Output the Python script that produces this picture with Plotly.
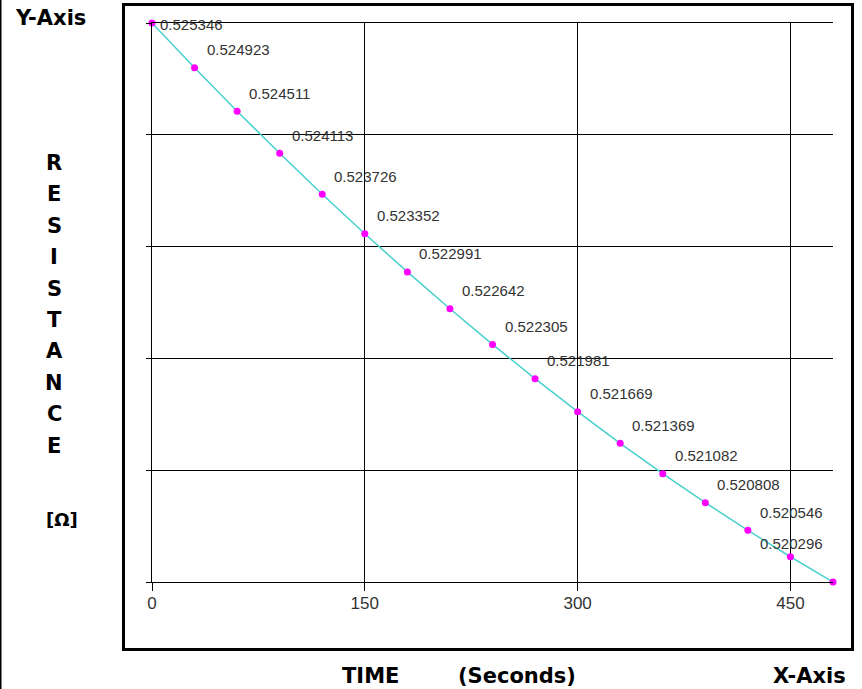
import plotly.graph_objects as go

# ---- data ----
time_s = [0, 30, 60, 90, 120, 150, 180, 210, 240, 270, 300, 330, 360, 390, 420, 450, 480]
resistance = [0.525346, 0.524923, 0.524511, 0.524113, 0.523726, 0.523352, 0.522991,
              0.522642, 0.522305, 0.521981, 0.521669, 0.521369, 0.521082, 0.520808,
              0.520546, 0.520296, 0.520057]
point_labels = ["0.525346", "0.524923", "0.524511", "0.524113", "0.523726", "0.523352",
                "0.522991", "0.522642", "0.522305", "0.521981", "0.521669", "0.521369",
                "0.521082", "0.520808", "0.520546", "0.520296", ""]
x_ticks = [0, 150, 300, 450]
x_tick_text = ["0", "150", "300", "450"]
y_title_letters = list("RESISTANCE")

W, H = 862, 689
L, R, T, B = 152, 833, 23, 582  # plot area in pixels


def px(x):
    return (x - L) / (R - L)


def py(y):
    return (B - y) / (B - T)


ymin, ymax = min(resistance), max(resistance)
n_grid = 5
y_grid = [ymin + (ymax - ymin) * i / n_grid for i in range(n_grid + 1)]

label_font = dict(family="Liberation Sans, Arial, sans-serif", size=15, color="#333333")
title_font = dict(family="DejaVu Sans, Verdana, sans-serif", size=21, color="#000000")

fig = go.Figure()
fig.add_trace(go.Scatter(
    x=time_s, y=resistance, mode="lines+markers",
    line=dict(color="#48D1CC", width=1.5),
    marker=dict(color="#FF00FF", size=7),
    cliponaxis=False, showlegend=False, hoverinfo="x+y",
))

# label offsets (pixels): default up-right, first and last are nudged to stay inside
label_shift = {0: (6, -1), 15: (-32, 13)}

annotations = []
for i, (t, r, lab) in enumerate(zip(time_s, resistance, point_labels)):
    if not lab:
        continue
    xs, ys = label_shift.get(i, (10, 18))
    annotations.append(dict(x=t, y=r, xref="x", yref="y", text=lab, showarrow=False,
                            xanchor="left", yanchor="middle", xshift=xs, yshift=ys,
                            font=label_font))

annotations.append(dict(x=px(13), y=py(18), xref="paper", yref="paper", text="<b>Y-Axis</b>",
                        showarrow=False, xanchor="left", yanchor="middle", font=title_font))
for k, ch in enumerate(y_title_letters):
    annotations.append(dict(x=px(54), y=py(163 + 31.4 * k), xref="paper", yref="paper",
                            text="<b>%s</b>" % ch, showarrow=False, xanchor="center",
                            yanchor="middle", font=title_font))
annotations.append(dict(x=px(62), y=py(519), xref="paper", yref="paper", text="<b>[Ω]</b>",
                        showarrow=False, xanchor="center", yanchor="middle",
                        font=dict(family=title_font["family"], size=18, color="#000")))
annotations.append(dict(x=px(340), y=py(676), xref="paper", yref="paper", text="<b>TIME</b>",
                        showarrow=False, xanchor="left", yanchor="middle", font=title_font))
annotations.append(dict(x=px(456), y=py(676), xref="paper", yref="paper", text="<b>(Seconds)</b>",
                        showarrow=False, xanchor="left", yanchor="middle", font=title_font))
annotations.append(dict(x=px(771), y=py(676), xref="paper", yref="paper", text="<b>X-Axis</b>",
                        showarrow=False, xanchor="left", yanchor="middle", font=title_font))

shapes = [
    dict(type="rect", xref="paper", yref="paper", x0=px(123.5), x1=px(852.5), y0=py(4.5), y1=py(649.5),
         line=dict(color="#000000", width=3), fillcolor="rgba(0,0,0,0)", layer="below"),
    dict(type="line", xref="paper", yref="paper", x0=px(0.75), x1=px(0.75), y0=py(0), y1=py(H),
         line=dict(color="#000000", width=1.5)),
]

fig.update_layout(
    width=W, height=H,
    margin=dict(l=L, r=W - R, t=T, b=H - B, pad=0),
    paper_bgcolor="white", plot_bgcolor="white",
    annotations=annotations, shapes=shapes,
    xaxis=dict(range=[0, 480], tickvals=x_ticks, ticktext=x_tick_text,
               showgrid=True, gridcolor="#000000", gridwidth=1, zeroline=False,
               showline=True, linecolor="#000000", linewidth=1, mirror=True,
               ticks="outside", ticklen=8, tickcolor="#000000", tickwidth=1,
               ticklabelstandoff=-2,
               tickfont=dict(family=label_font["family"], size=17, color="#333333")),
    yaxis=dict(range=[ymin, ymax], tickvals=y_grid, showticklabels=False,
               showgrid=True, gridcolor="#000000", gridwidth=1, zeroline=False,
               showline=True, linecolor="#000000", linewidth=1, mirror=False,
               ticks="outside", ticklen=5, tickcolor="#000000", tickwidth=1),
)

fig.write_html("out.html")
